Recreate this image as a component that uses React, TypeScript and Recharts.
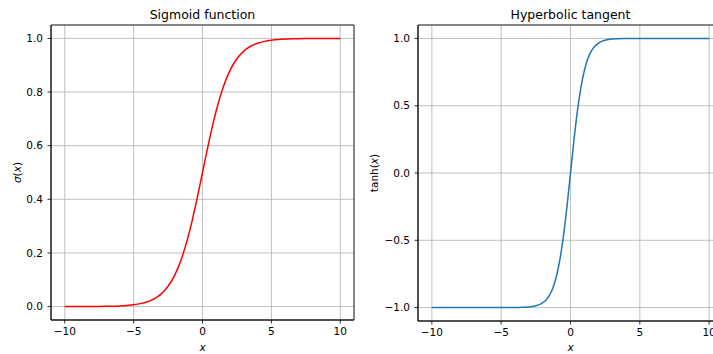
import React from 'react';
import { LineChart, Line, XAxis, YAxis, CartesianGrid, ReferenceArea, Label } from 'recharts';

// x positions of the sampled points (shared by both curves)
const xs = [
  -10, -9.5, -9, -8.5, -8, -7.5, -7, -6.5, -6, -5.5, -5, -4.5, -4, -3.75, -3.5, -3.25, -3, -2.75, -2.5, -2.25,
  -2, -1.75, -1.5, -1.25, -1, -0.75, -0.5, -0.25, 0, 0.25, 0.5, 0.75, 1, 1.25, 1.5, 1.75, 2, 2.25, 2.5, 2.75,
  3, 3.25, 3.5, 3.75, 4, 4.5, 5, 5.5, 6, 6.5, 7, 7.5, 8, 8.5, 9, 9.5, 10,
];

const sigmoidValues = [
  0.0, 0.0001, 0.0001, 0.0002, 0.0003, 0.0006, 0.0009, 0.0015, 0.0025, 0.0041, 0.0067, 0.011, 0.018, 0.023,
  0.0293, 0.0373, 0.0474, 0.0601, 0.0759, 0.0954, 0.1192, 0.1481, 0.1824, 0.2227, 0.2689, 0.3208, 0.3775,
  0.4378, 0.5, 0.5622, 0.6225, 0.6792, 0.7311, 0.7773, 0.8176, 0.8519, 0.8808, 0.9046, 0.9241, 0.9399,
  0.9526, 0.9627, 0.9707, 0.977, 0.982, 0.989, 0.9933, 0.9959, 0.9975, 0.9985, 0.9991, 0.9994, 0.9997,
  0.9998, 0.9999, 0.9999, 1.0,
];

const tanhValues = [
  -1.0, -1.0, -1.0, -1.0, -1.0, -1.0, -1.0, -1.0, -1.0, -1.0, -0.9999, -0.9998, -0.9993, -0.9989, -0.9982,
  -0.997, -0.9951, -0.9919, -0.9866, -0.978, -0.964, -0.9414, -0.9052, -0.8483, -0.7616, -0.6351, -0.4621,
  -0.2449, 0, 0.2449, 0.4621, 0.6351, 0.7616, 0.8483, 0.9052, 0.9414, 0.964, 0.978, 0.9866, 0.9919, 0.9951,
  0.997, 0.9982, 0.9989, 0.9993, 0.9998, 0.9999, 1.0, 1.0, 1.0, 1.0, 1.0, 1.0, 1.0, 1.0, 1.0, 1.0,
];

const xTicks = [-10, -5, 0, 5, 10];
const sigmoidTicks = [0, 0.2, 0.4, 0.6, 0.8, 1.0];
const tanhTicks = [-1, -0.5, 0, 0.5, 1];

const FONT = '"DejaVu Sans", sans-serif';
const GRID = '#b0b0b0';
const TEXT = '#000000';

const sigmoidData = xs.map((x, i) => ({ x, y: sigmoidValues[i] }));
const tanhData = xs.map((x, i) => ({ x, y: tanhValues[i] }));

// matplotlib uses a real minus sign
const fmtInt = (v: number) => String(v).replace('-', '\u2212');
const fmtOne = (v: number) => v.toFixed(1).replace('-', '\u2212');

const tickStyle = { fill: TEXT, fontSize: 10.5, fontFamily: FONT };
const lineStyle = { stroke: '#000', strokeWidth: 0.8 };

function XLabel({ viewBox }: any) {
  if (!viewBox) return null;
  return (
    <text
      x={viewBox.x + viewBox.width / 2}
      y={351}
      textAnchor="middle"
      fontSize={10.5}
      fontFamily={FONT}
      fontStyle="italic"
      fill={TEXT}
    >
      x
    </text>
  );
}

function makeYLabel(baseX: number, fn: string, italicFn: boolean) {
  return function YLabel({ viewBox }: any) {
    if (!viewBox) return null;
    const cy = viewBox.y + viewBox.height / 2;
    return (
      <text
        x={baseX}
        y={cy}
        transform={`rotate(-90, ${baseX}, ${cy})`}
        textAnchor="middle"
        fontSize={10.5}
        fontFamily={FONT}
        fill={TEXT}
      >
        <tspan fontStyle={italicFn ? 'italic' : 'normal'}>{fn}</tspan>
        <tspan>(</tspan>
        <tspan fontStyle="italic">x</tspan>
        <tspan>)</tspan>
      </text>
    );
  };
}

const SigmaLabel = makeYLabel(21, '\u03c3', true);
const TanhLabel = makeYLabel(18, 'tanh', false);

export default function App() {
  return (
    <div
      style={{
        position: 'absolute',
        left: 0,
        top: 0,
        width: 713,
        height: 354,
        overflow: 'hidden',
        background: '#fff',
      }}
    >
      {/* Sigmoid */}
      <div style={{ position: 'absolute', left: 0, top: 0 }}>
        <LineChart width={360} height={354} data={sigmoidData} margin={{ top: 25, right: 6, bottom: 0, left: 0 }}>
          <CartesianGrid stroke={GRID} strokeWidth={0.8} />
          <XAxis
            dataKey="x"
            type="number"
            domain={[-11, 11]}
            ticks={xTicks}
            tickFormatter={fmtInt}
            height={34}
            tick={tickStyle}
            tickSize={3.5}
            tickMargin={4.5}
            axisLine={lineStyle}
            tickLine={lineStyle}
            allowDataOverflow
          >
            <Label content={XLabel} />
          </XAxis>
          <YAxis
            type="number"
            domain={[-0.05, 1.05]}
            ticks={sigmoidTicks}
            tickFormatter={fmtOne}
            width={51}
            tick={tickStyle}
            tickSize={3.5}
            tickMargin={4.5}
            axisLine={lineStyle}
            tickLine={lineStyle}
            allowDataOverflow
          >
            <Label content={SigmaLabel} />
          </YAxis>
          <ReferenceArea
            x1={-11}
            x2={11}
            y1={-0.05}
            y2={1.05}
            fill="none"
            fillOpacity={0}
            stroke="#000"
            strokeWidth={0.8}
            label={{ value: 'Sigmoid function', position: 'top', offset: 6, fill: TEXT, fontSize: 12.5, fontFamily: FONT }}
          />
          <Line
            dataKey="y"
            type="monotone"
            stroke="#ff0000"
            strokeWidth={1.5}
            dot={false}
            isAnimationActive={false}
          />
        </LineChart>
      </div>

      {/* Hyperbolic tangent */}
      <div style={{ position: 'absolute', left: 360, top: 0 }}>
        <LineChart width={363} height={354} data={tanhData} margin={{ top: 25, right: 0, bottom: 0, left: 0 }}>
          <CartesianGrid stroke={GRID} strokeWidth={0.8} />
          <XAxis
            dataKey="x"
            type="number"
            domain={[-11, 11]}
            ticks={xTicks}
            tickFormatter={fmtInt}
            height={33}
            tick={tickStyle}
            tickSize={3.5}
            tickMargin={4.5}
            axisLine={lineStyle}
            tickLine={lineStyle}
            allowDataOverflow
          >
            <Label content={XLabel} />
          </XAxis>
          <YAxis
            type="number"
            domain={[-1.1, 1.1]}
            ticks={tanhTicks}
            tickFormatter={fmtOne}
            width={58}
            tick={tickStyle}
            tickSize={3.5}
            tickMargin={4.5}
            axisLine={lineStyle}
            tickLine={lineStyle}
            allowDataOverflow
          >
            <Label content={TanhLabel} />
          </YAxis>
          <ReferenceArea
            x1={-11}
            x2={11}
            y1={-1.1}
            y2={1.1}
            fill="none"
            fillOpacity={0}
            stroke="#000"
            strokeWidth={0.8}
            label={{ value: 'Hyperbolic tangent', position: 'top', offset: 6, fill: TEXT, fontSize: 12.5, fontFamily: FONT }}
          />
          <Line
            dataKey="y"
            type="monotone"
            stroke="#1f77b4"
            strokeWidth={1.5}
            dot={false}
            isAnimationActive={false}
          />
        </LineChart>
      </div>
    </div>
  );
}
